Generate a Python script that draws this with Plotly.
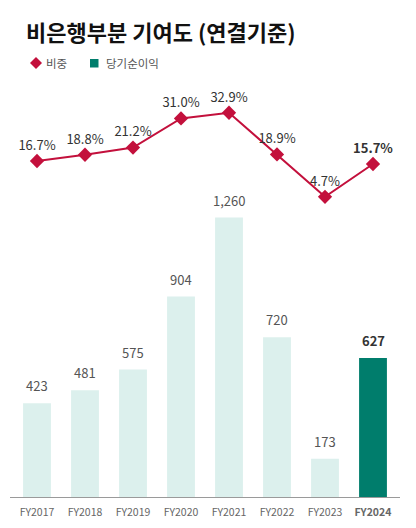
import plotly.graph_objects as go

years = ["FY2017", "FY2018", "FY2019", "FY2020", "FY2021", "FY2022", "FY2023", "FY2024"]
share_pct = [16.7, 18.8, 21.2, 31.0, 32.9, 18.9, 4.7, 15.7]
net_income = [423, 481, 575, 904, 1260, 720, 173, 627]
income_labels = ["423", "481", "575", "904", "1,260", "720", "173", "627"]
legend_names = ["비중", "당기순이익"]

LINE_RED = "#C3103C"
BAR_LIGHT = "#DCF0ED"
BAR_DARK = "#007D6C"
FONT = "Noto Sans CJK KR"

# plot area is 390 x 412 px; helpers to place decorations in paper units
PW, PH = 390.0, 412.0


def px_x(px):
    return (px - 10) / PW


def px_y(py):
    return (497 - py) / PH


last = len(years) - 1
bar_colors = [BAR_DARK if i == last else BAR_LIGHT for i in range(len(years))]

fig = go.Figure()

fig.add_trace(go.Bar(
    x=years, y=net_income,
    marker=dict(color=bar_colors, line=dict(width=0)),
    showlegend=False, hoverinfo="skip",
))

fig.add_trace(go.Scatter(
    x=years, y=share_pct, yaxis="y2",
    mode="lines+markers+text",
    line=dict(color=LINE_RED, width=2),
    marker=dict(symbol="diamond", size=11, color=LINE_RED),
    text=[f"<b>{v:.1f}%</b>" if i == last else f"{v:.1f}%" for i, v in enumerate(share_pct)],
    textposition="top center",
    textfont=dict(family=FONT, size=13, color="#333333"),
    showlegend=False, hoverinfo="skip",
))

# bar value labels
for i, (yr, v, lab) in enumerate(zip(years, net_income, income_labels)):
    fig.add_annotation(
        x=yr, y=v, xref="x", yref="y",
        text=f"<b>{lab}</b>" if i == last else lab,
        showarrow=False, yanchor="bottom", yshift=6,
        font=dict(family=FONT, size=13, color="#333333" if i == last else "#555555"),
    )

# title
fig.add_annotation(
    x=px_x(24), y=px_y(31), xref="paper", yref="paper",
    xanchor="left", yanchor="middle", showarrow=False,
    text="<b>비은행부분 기여도 (연결기준)</b>",
    font=dict(family=FONT, size=22, color="#111111"),
)

# hand-made legend
fig.add_shape(
    type="path", xref="paper", yref="paper",
    path=(f"M {px_x(30)} {px_y(63)} L {px_x(36)} {px_y(57)} "
          f"L {px_x(42)} {px_y(63)} L {px_x(36)} {px_y(69)} Z"),
    fillcolor=LINE_RED, line=dict(width=0),
)
fig.add_shape(
    type="rect", xref="paper", yref="paper",
    x0=px_x(90), x1=px_x(98.5), y0=px_y(67.5), y1=px_y(59),
    fillcolor=BAR_DARK, line=dict(width=0),
)
for name, left in zip(legend_names, [44, 104]):
    fig.add_annotation(
        x=px_x(left), y=px_y(63), xref="paper", yref="paper",
        xanchor="left", yanchor="middle", showarrow=False,
        text=name, font=dict(family=FONT, size=11.5, color="#555555"),
    )

tick_text = [f"<b>{y}</b>" if i == last else y for i, y in enumerate(years)]

# page body has an 8px margin, so the figure is shrunk and shifted to fit
fig.update_layout(
    width=408, height=520,
    margin=dict(l=2, r=16, t=77, b=31),
    paper_bgcolor="white", plot_bgcolor="white",
    bargap=0.42,
    font=dict(family=FONT, size=12, color="#666666"),
    xaxis=dict(
        range=[-0.5625, 7.5625],
        tickvals=years, ticktext=tick_text,
        tickfont=dict(family=FONT, size=10.5, color="#666666"),
        ticklabelstandoff=5,
        showline=True, linecolor="#9A9A9A", linewidth=1,
        showgrid=False, ticks="", fixedrange=True,
    ),
    yaxis=dict(range=[0, 1858], visible=False, showgrid=False),
    yaxis2=dict(range=[-96, 42.2], overlaying="y", visible=False, showgrid=False),
    showlegend=False,
)

fig.write_html("out.html")
